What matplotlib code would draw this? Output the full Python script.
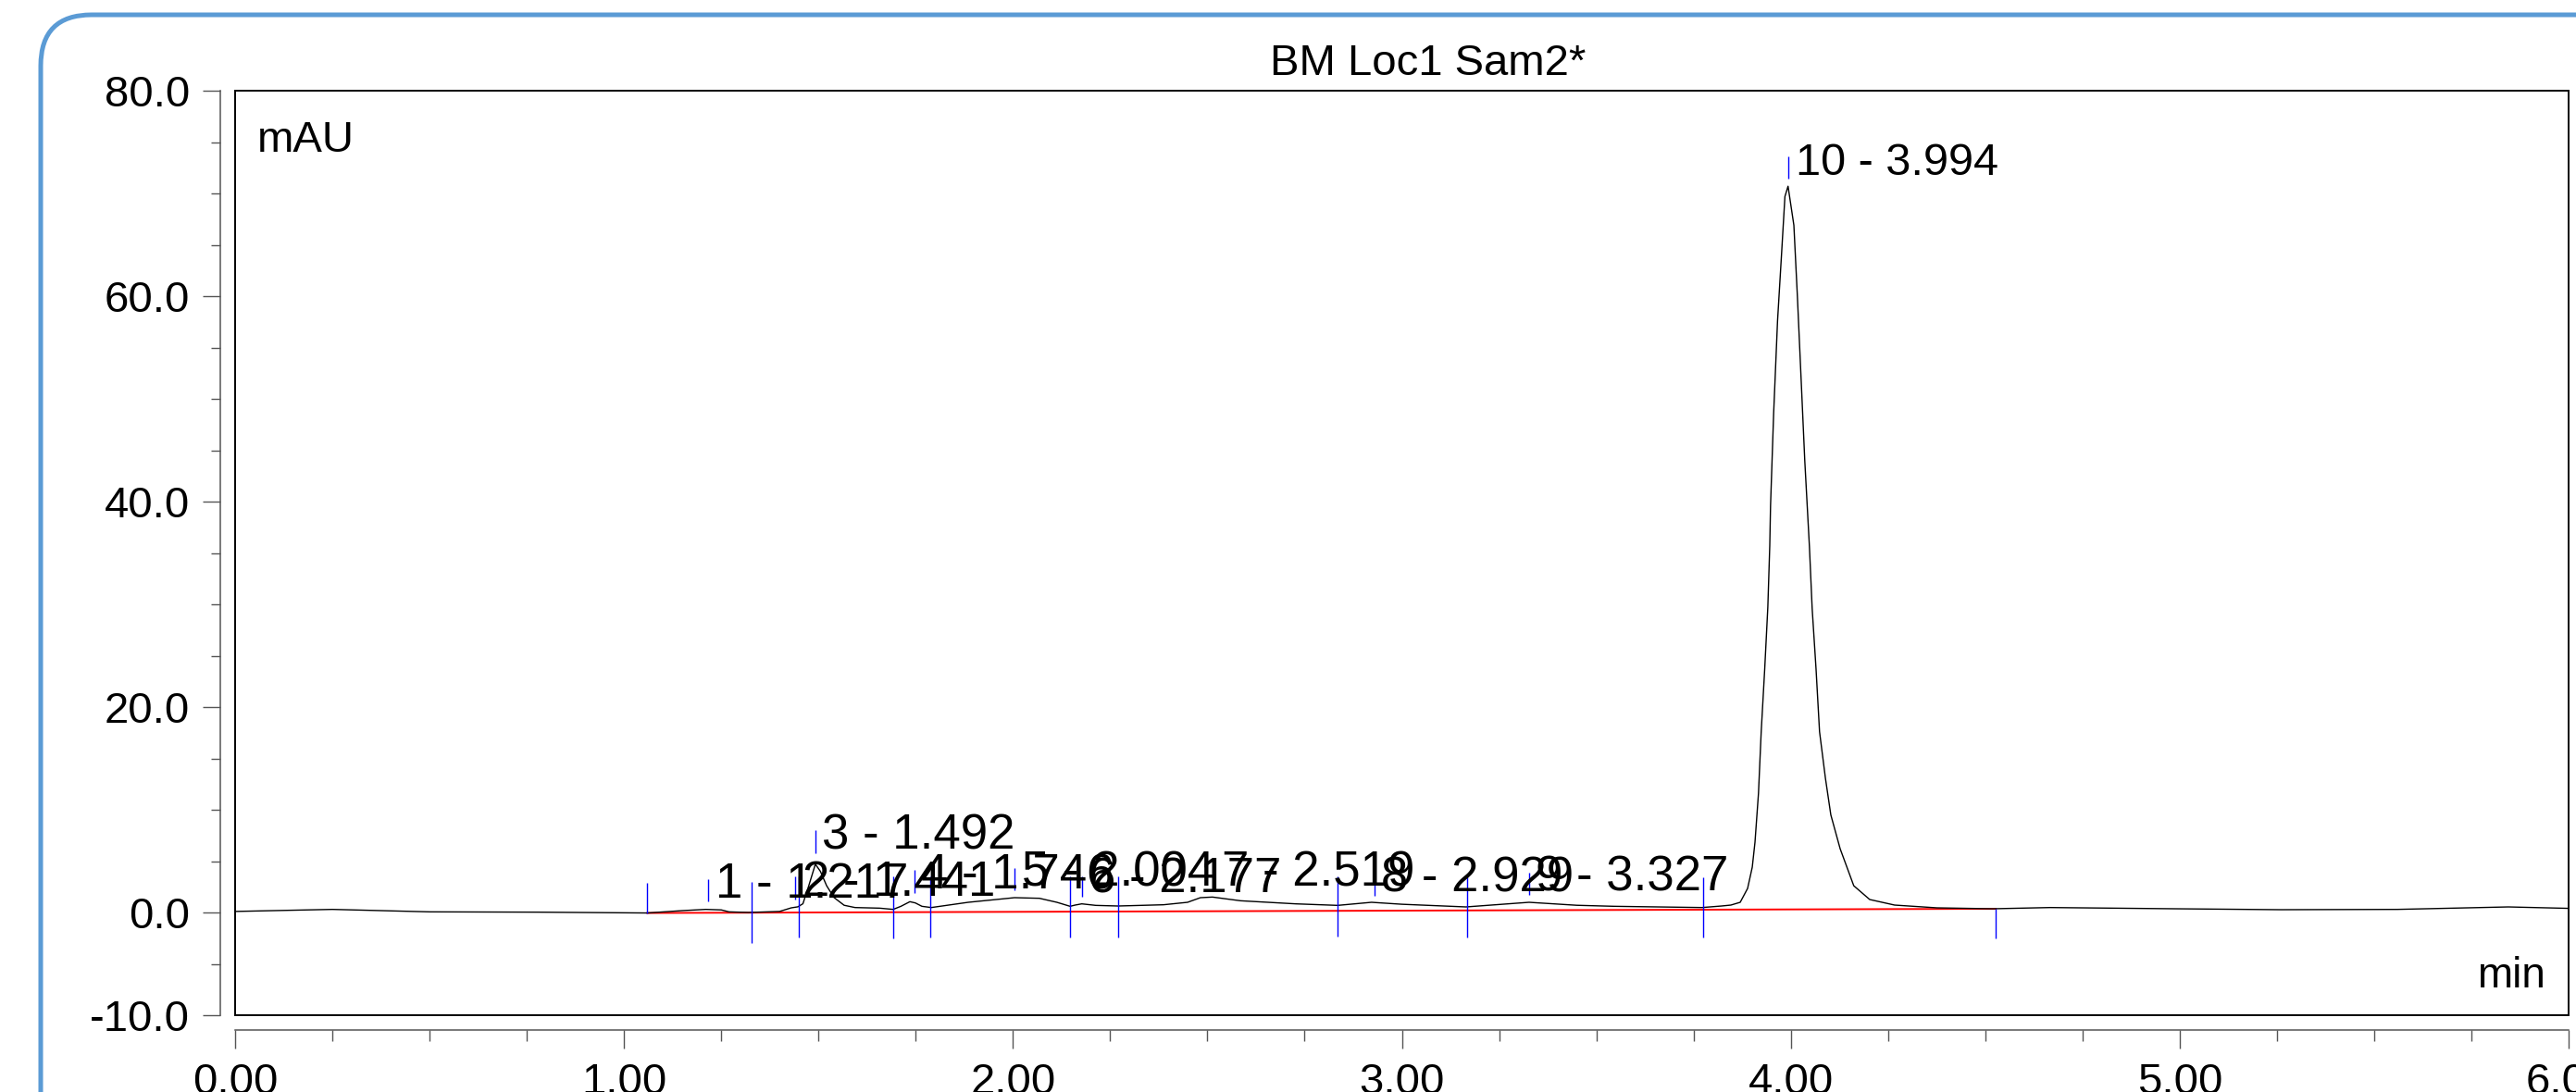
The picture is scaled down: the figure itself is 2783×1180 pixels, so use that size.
import matplotlib.pyplot as plt
from matplotlib.patches import FancyBboxPatch, Rectangle
from matplotlib.ticker import MultipleLocator, FormatStrFormatter

plt.rcParams['font.family'] = ['Liberation Sans', 'DejaVu Sans']

# chromatogram trace (min, mAU)
time_min = [0.000, 0.250, 0.500, 0.780, 1.060, 1.150, 1.210, 1.250, 1.270, 1.320,
            1.400, 1.430, 1.447, 1.460, 1.475, 1.492, 1.505, 1.521, 1.540, 1.566,
            1.594, 1.657, 1.692, 1.712, 1.735, 1.749, 1.766, 1.790, 1.885, 2.004,
            2.068, 2.113, 2.147, 2.160, 2.177, 2.213, 2.270, 2.387, 2.449, 2.482,
            2.513, 2.585, 2.727, 2.835, 2.922, 3.000, 3.165, 3.327, 3.450, 3.546,
            3.772, 3.822, 3.846, 3.870, 3.889, 3.901, 3.908, 3.917, 3.924, 3.933,
            3.941, 3.946, 3.948, 3.956, 3.966, 3.976, 3.985, 3.993, 4.008, 4.017,
            4.027, 4.036, 4.048, 4.055, 4.065, 4.074, 4.089, 4.103, 4.127, 4.162,
            4.203, 4.267, 4.376, 4.519, 4.667, 4.988, 5.260, 5.560, 5.845, 6.000]
signal_mau = [0.10, 0.30, 0.06, 0.03, -0.05, 0.18, 0.30, 0.25, 0.06, 0.00,
              0.10, 0.45, 0.55, 0.85, 2.60, 4.70, 4.00, 2.60, 1.45, 0.70,
              0.48, 0.42, 0.30, 0.60, 1.05, 0.93, 0.60, 0.48, 0.99, 1.44,
              1.38, 0.99, 0.60, 0.72, 0.84, 0.69, 0.63, 0.75, 0.99, 1.44,
              1.50, 1.14, 0.84, 0.69, 0.99, 0.80, 0.54, 0.99, 0.70, 0.60,
              0.48, 0.63, 0.72, 0.99, 2.34, 4.41, 6.84, 11.6, 17.6, 23.7,
              29.7, 35.7, 39.6, 48.6, 57.6, 63.9, 69.7, 70.7, 66.9, 60.0,
              51.6, 44.0, 35.6, 29.6, 23.7, 17.6, 13.1, 9.5, 6.2, 2.6,
              1.26, 0.72, 0.45, 0.36, 0.48, 0.36, 0.27, 0.30, 0.54, 0.40]

# integrated peaks
peak_numbers = [1, 2, 3, 4, 5, 6, 7, 8, 9, 10]
peak_rt = [1.217, 1.441, 1.492, 1.746, 2.004, 2.177, 2.519, 2.929, 3.327, 3.994]
peak_mark_top = [3.24, 3.51, 8.02, 4.14, 4.32, 3.51, 4.50, 3.87, 3.87, 73.6]
peak_mark_bottom = [1.08, 1.26, 5.77, 1.89, 2.16, 1.53, 2.16, 1.62, 1.71, 71.4]

# peak start / end delimiters
bound_t = [1.060, 1.329, 1.450, 1.693, 1.788, 2.147, 2.271, 2.835, 3.167, 3.774, 4.527]
bound_top = [2.88, 2.97, 3.51, 3.51, 3.51, 3.51, 3.51, 3.51, 3.51, 3.42, 0.36]
bound_bottom = [-0.09, -2.97, -2.43, -2.52, -2.43, -2.43, -2.43, -2.34, -2.43, -2.43, -2.52]

# integration baseline
baseline_t = [1.060, 4.527]
baseline_v = [-0.05, 0.36]

title = 'BM Loc1 Sam2*'
x_unit = 'min'
y_unit = 'mAU'


def draw_chromatogram():
    W, H = 2783, 1180
    fig = plt.figure(figsize=(W / 100, H / 100), dpi=100)

    # rounded blue frame, runs off the right and bottom edge
    frame = FancyBboxPatch((0.44, -1.0), 30.0, 12.64,
                           boxstyle='round,pad=0,rounding_size=0.55',
                           transform=fig.dpi_scale_trans, fill=False,
                           ec='#5B9BD5', lw=3.6, clip_on=False)
    fig.add_artist(frame)

    ax = fig.add_axes([254 / W, 83 / H, (2775 - 254) / W, (1097 - 98) / H])

    ax.plot(time_min, signal_mau, color='black', lw=1.0, zorder=3)
    ax.plot(baseline_t, baseline_v, color='red', lw=1.4, zorder=2)
    ax.vlines(bound_t, bound_bottom, bound_top, color='blue', lw=1.0, zorder=4)
    ax.vlines(peak_rt, peak_mark_bottom, peak_mark_top, color='blue', lw=1.0, zorder=4)

    for n, rt, bottom in zip(peak_numbers, peak_rt, peak_mark_bottom):
        size = 35 if n == 10 else 38
        ax.annotate('%d - %.3f' % (n, rt), xy=(rt, bottom), xytext=(5.4, 3),
                    textcoords='offset points', fontsize=size,
                    ha='left', va='baseline', zorder=5)

    ax.set_xlim(0, 6)
    ax.set_ylim(-10, 80)
    ax.set_xticks([0, 1, 2, 3, 4, 5, 6])
    ax.set_yticks([-10, 0, 20, 40, 60, 80])
    ax.xaxis.set_minor_locator(MultipleLocator(0.25))
    ax.yaxis.set_minor_locator(MultipleLocator(5))
    ax.xaxis.set_major_formatter(FormatStrFormatter('%.2f'))
    ax.yaxis.set_major_formatter(FormatStrFormatter('%.1f'))

    ax.spines['top'].set_visible(False)
    ax.spines['right'].set_visible(False)
    for side in ['left', 'bottom']:
        ax.spines[side].set_position(('outward', 11.5))
        ax.spines[side].set_color('#555555')
        ax.spines[side].set_linewidth(1.1)

    ax.tick_params(axis='y', which='major', length=13.7, width=1.0, color='#555555',
                   pad=10, labelsize=34)
    ax.tick_params(axis='y', which='minor', length=7.2, width=1.0, color='#555555')
    ax.tick_params(axis='x', which='major', length=14.4, width=1.0, color='#555555',
                   pad=10.8, labelsize=34)
    ax.tick_params(axis='x', which='minor', length=8.6, width=1.0, color='#555555')

    # plot box
    ax.add_patch(Rectangle((0, 0), 1, 1, transform=ax.transAxes, fill=False,
                           ec='black', lw=1.4, clip_on=False, zorder=6))

    fig.text(1543 / W, 1 - 81 / H, title, fontsize=34, ha='center', va='baseline')
    fig.text(278 / W, 1 - 164 / H, y_unit, fontsize=34, ha='left', va='baseline')
    fig.text(2750 / W, 1 - 1067 / H, x_unit, fontsize=33, ha='right', va='baseline')

    fig.savefig('out.png', dpi=100)


def main():
    draw_chromatogram()


if __name__ == '__main__':
    main()
